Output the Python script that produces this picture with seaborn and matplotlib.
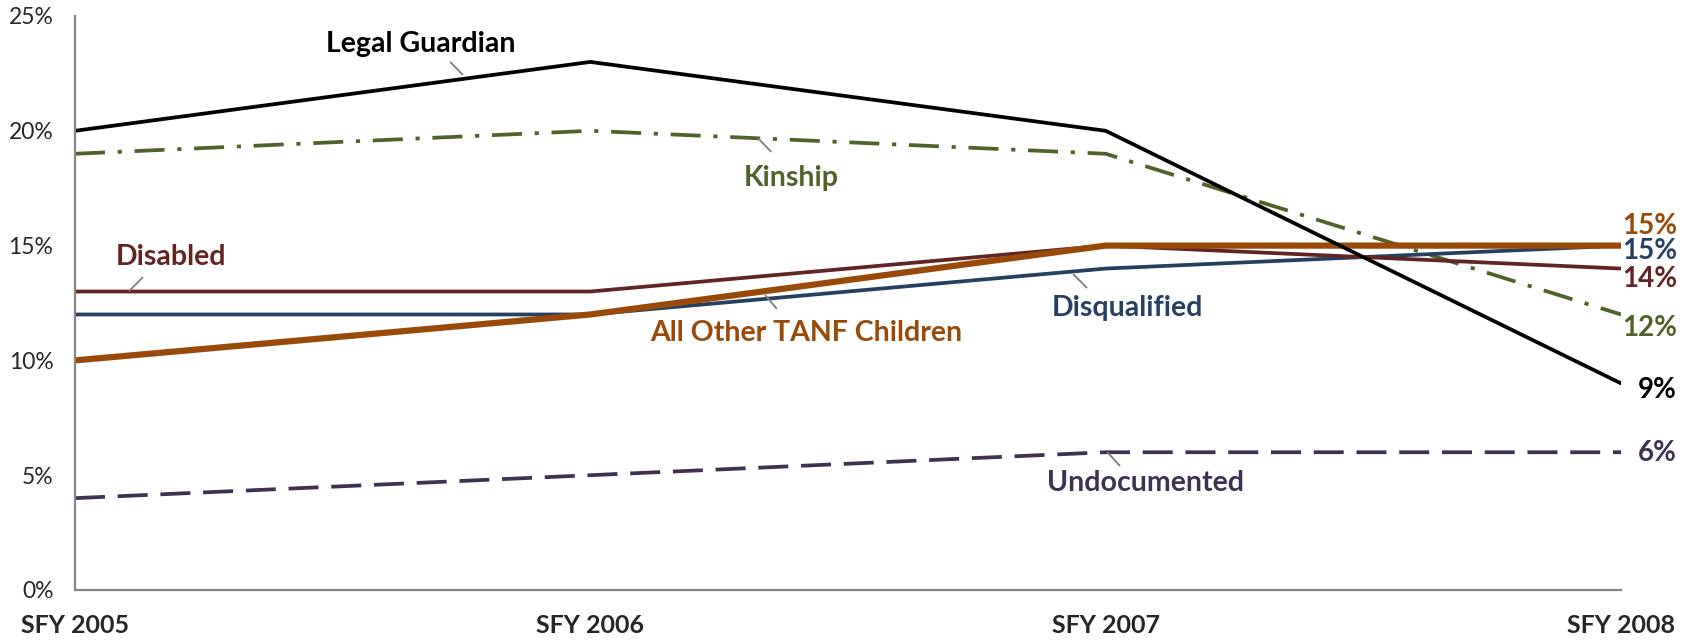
import matplotlib
matplotlib.use('Agg')
import matplotlib.pyplot as plt
import pandas as pd
import seaborn as sns

# dati (percentuali per anno fiscale)
years = ['SFY 2005', 'SFY 2006', 'SFY 2007', 'SFY 2008']
legal_guardian = [20, 23, 20, 9]
kinship = [19, 20, 19, 12]
disabled = [13, 13, 15, 14]
disqualified = [12, 12, 14, 15]
all_other = [10, 12, 15, 15]
undocumented = [4, 5, 6, 6]

series_names = ['Undocumented', 'Kinship', 'Disqualified', 'Disabled',
                'All Other TANF Children', 'Legal Guardian']
series_values = [undocumented, kinship, disqualified, disabled, all_other, legal_guardian]

# stile di ogni serie
styles = {
    'Legal Guardian': dict(color='#000000', lw=2.7, ls='-'),
    'Kinship': dict(color='#4F6228', lw=2.7, ls=(0, (8.0, 3.4, 1.1, 3.4))),
    'Disabled': dict(color='#632523', lw=2.7, ls='-'),
    'Disqualified': dict(color='#254061', lw=2.7, ls='-'),
    'All Other TANF Children': dict(color='#9A4A08', lw=4.5, ls='-'),
    'Undocumented': dict(color='#3F3151', lw=2.7, ls=(0, (8.0, 3.4))),
}

# posizione etichette (testo, inizio e fine della linea guida) in coordinate dati
label_pos = {
    'Legal Guardian': ((0.671, 23.78), (0.753, 22.43), (0.728, 23.0)),
    'Kinship': ((1.389, 17.94), (1.325, 19.69), (1.351, 19.08)),
    'Disabled': ((0.186, 14.50), (0.105, 13.02), (0.132, 13.63)),
    'All Other TANF Children': ((1.419, 11.19), (1.339, 12.85), (1.362, 12.24)),
    'Disqualified': ((2.042, 12.28), (1.937, 13.76), (1.964, 13.15)),
    'Undocumented': ((2.078, 4.66), (2.003, 6.01), (2.028, 5.40)),
}
end_label_y = {
    'All Other TANF Children': 15.85, 'Disqualified': 14.75, 'Disabled': 13.55,
    'Kinship': 11.41, 'Legal Guardian': 8.71, 'Undocumented': 5.97,
}

sns.set_style('white')
plt.rcParams['font.family'] = ['Lato', 'DejaVu Sans']

fig = plt.figure(figsize=(16.9, 6.41), dpi=100)
ax = fig.add_axes([75 / 1690, 1 - 590 / 641, 1546 / 1690, 574 / 641])

for name, vals in zip(series_names, series_values):
    st = styles[name]
    df = pd.DataFrame({'x': range(len(years)), 'y': vals})
    sns.lineplot(data=df, x='x', y='y', ax=ax, color=st['color'],
                 linewidth=st['lw'], linestyle=st['ls'], solid_joinstyle='miter')

    (tx, ty), (lx0, ly0), (lx1, ly1) = label_pos[name]
    ax.plot([lx0, lx1], [ly0, ly1], color='#7F7F7F', lw=1.3, solid_capstyle='butt')
    ax.text(tx, ty, name, color=st['color'], fontsize=20.5, fontweight='bold',
            ha='center', va='center')

    ax.annotate(f'{vals[-1]}%', xy=(3, end_label_y[name]), xytext=(40.5, 0),
                textcoords='offset points', ha='right', va='center',
                color=st['color'], fontsize=20, fontweight='bold',
                annotation_clip=False)

ax.set_xlim(0, 3)
ax.set_ylim(0, 25)
ax.set_xticks(range(len(years)))
ax.set_xticklabels(years, fontsize=18, fontweight='bold')
ax.set_yticks([0, 5, 10, 15, 20, 25])
ax.set_yticklabels([f'{v}%' for v in [0, 5, 10, 15, 20, 25]], fontsize=16.5)
ax.set_xlabel('')
ax.set_ylabel('')

sns.despine(ax=ax)
for sp in ['left', 'bottom']:
    ax.spines[sp].set_color('#868686')
    ax.spines[sp].set_linewidth(1.6)
ax.tick_params(axis='both', direction='out', length=5.5, width=1.2, color='#868686')
ax.tick_params(axis='y', pad=10)
ax.tick_params(axis='x', pad=12)

fig.savefig('out.png', dpi=100)
